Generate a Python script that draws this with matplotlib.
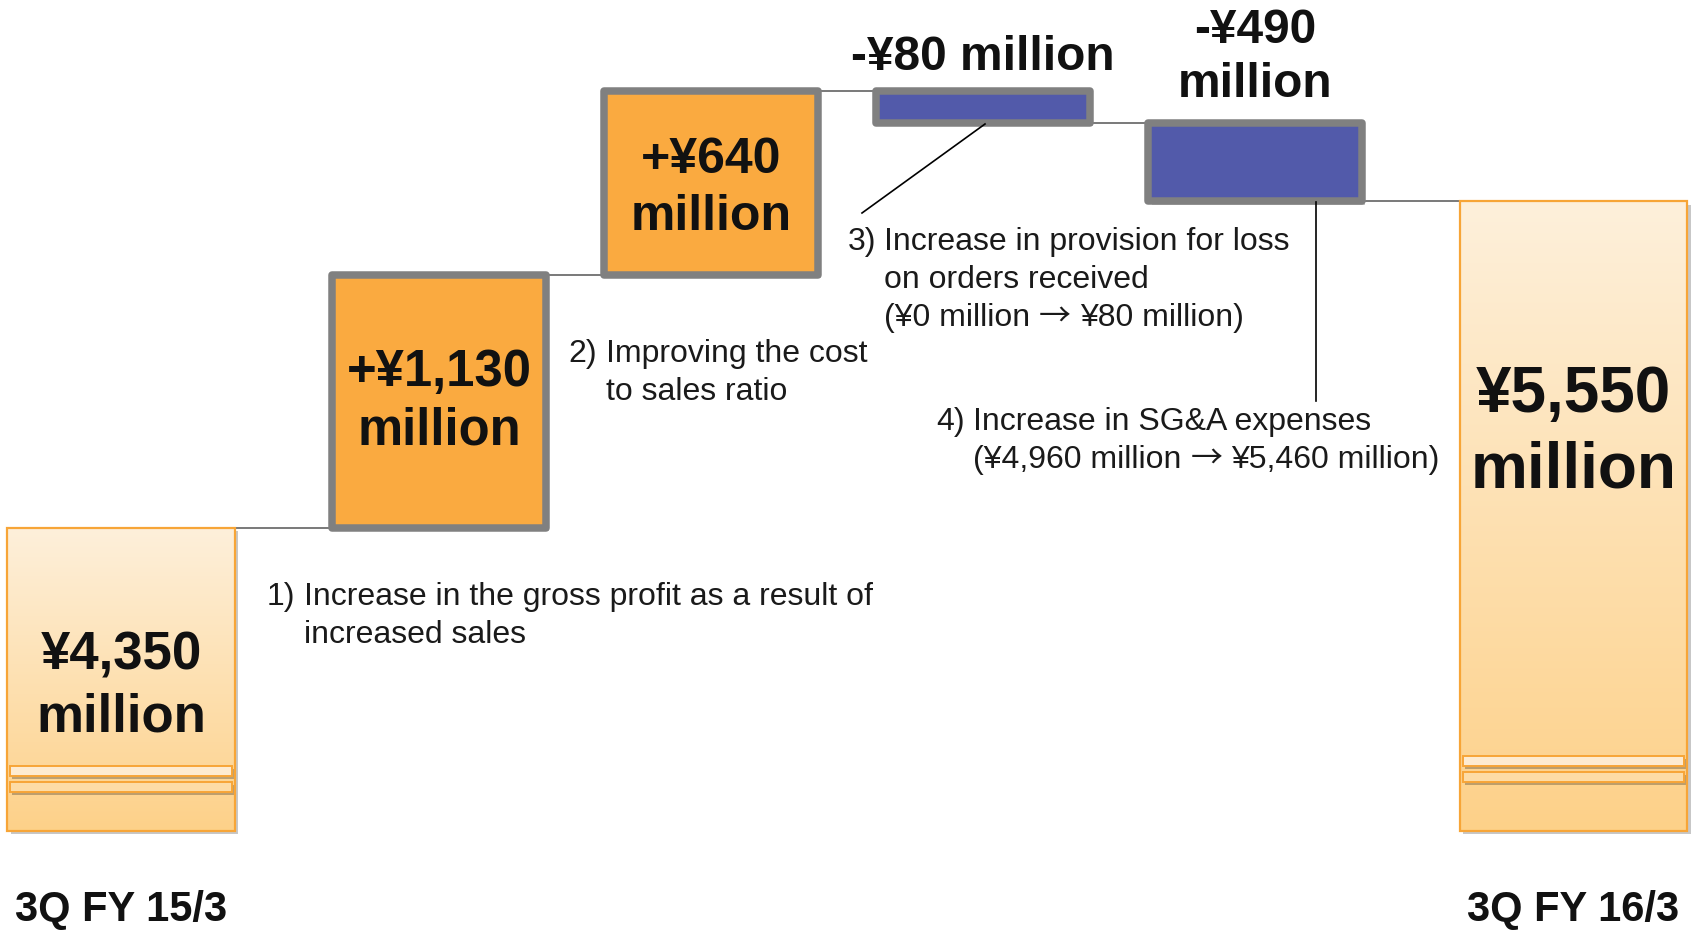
import numpy as np
import matplotlib
matplotlib.use("Agg")
import matplotlib.pyplot as plt
from matplotlib.patches import Rectangle
from matplotlib.lines import Line2D
from matplotlib import transforms as mtransforms
from matplotlib import patheffects as pe
from matplotlib.colors import LinearSegmentedColormap

plt.rcParams['font.family'] = ['Liberation Sans', 'DejaVu Sans']

# ---------------- data ----------------
period_labels = ["3Q FY 15/3", "3Q FY 16/3"]
start_value = 4350          # million yen
changes = [1130, 640, -80, -490]
end_value = 5550
notes = [
    ("1)", ["Increase in the gross profit as a result of", "increased sales"]),
    ("2)", ["Improving the cost", "to sales ratio"]),
    ("3)", ["Increase in provision for loss", "on orders received",
            "(¥0 million \u2192 ¥80 million)"]),
    ("4)", ["Increase in SG&A expenses",
            "(¥4,960 million \u2192 ¥5,460 million)"]),
]

# ---------------- derived values ----------------
levels = start_value + np.cumsum(changes)          # running totals
prev = np.concatenate([[start_value], levels[:-1]])
base_level = 0

def fmt_total(v):
    return f"¥{v:,}"

def fmt_change(c):
    return f"{'+' if c > 0 else '-'}¥{abs(c):,}"

# ---------------- figure / layout ----------------
W, H = 1691, 930
fig = plt.figure(figsize=(W / 100, H / 100), dpi=100)
ax = fig.add_axes([0, 0, 1, 1])
ax.set_axis_off()
ax.set_autoscale_on(False)

# schematic (non-proportional) vertical scale of the original slide:
# level -> height in pixels from the bottom of the figure
anchor_levels = np.array([base_level, start_value] + sorted(set(levels.tolist())), float)
anchor_disp = H - np.array([831, 528, 275, 201.5, 123, 91], float)

def _extrap(y, X, Y):
    y = np.asarray(y, float)
    out = np.interp(y, X, Y)
    lo_s = (Y[1] - Y[0]) / (X[1] - X[0])
    hi_s = (Y[-1] - Y[-2]) / (X[-1] - X[-2])
    out = np.where(y < X[0], Y[0] + (y - X[0]) * lo_s, out)
    out = np.where(y > X[-1], Y[-1] + (y - X[-1]) * hi_s, out)
    return out

fwd = lambda y: _extrap(y, anchor_levels, anchor_disp)
inv = lambda d: _extrap(d, anchor_disp, anchor_levels)
ax.set_yscale('function', functions=(fwd, inv))
ax.set_ylim(float(inv(0)), float(inv(H)))

# horizontal layout: unit spacing, with a wider gap around the totals
unit_px, x0_px = 272.0, 121.0
end_gap = 0.17
xpos = np.arange(6) + end_gap * np.array([0, 1, 1, 1, 1, 2])
ax.set_xlim(-x0_px / unit_px, (W - x0_px) / unit_px)

px = mtransforms.Affine2D().scale(1, -1).translate(0, H)   # pixels from top
xdata_ypx = mtransforms.blended_transform_factory(ax.transData, px)

# ---------------- styles ----------------
orange = '#FAAA40'
blue = '#525AAA'
gray_border = '#808080'
total_edge = '#F7A537'
conn_color = '#6E6E6E'
txt = '#111111'
note_color = '#1a1a1a'
shadow = [pe.SimplePatchShadow(offset=(2.5, -2.5), shadow_rgbFace='black', alpha=0.22),
          pe.Normal()]
grad_cmap = LinearSegmentedColormap.from_list('g', ['#FEF0DB', '#FDD189'])
end_w = 0.835
mid_w = 0.785

# ---------------- connectors ----------------
conn_levels = [start_value] + levels.tolist()
for i, lv in enumerate(conn_levels):
    ax.plot([xpos[i], xpos[i + 1]], [lv, lv], color=conn_color, lw=1.3, zorder=0.5,
            solid_capstyle='butt')

# ---------------- total bars ----------------
def total_bar(xc, top, bands_px):
    x0 = xc - end_w / 2
    r = Rectangle((x0, base_level), end_w, top - base_level, facecolor='#FDD189',
                  edgecolor='none', zorder=1, path_effects=shadow)
    ax.add_patch(r)
    (dx0, dy0), (dx1, dy1) = ax.transData.transform([(x0, base_level), (x0 + end_w, top)])
    grad = np.linspace(0, 1, 256).reshape(-1, 1)
    im = ax.imshow(grad, extent=(dx0, dx1, dy0, dy1), origin='upper', cmap=grad_cmap,
                   aspect='auto', interpolation='bilinear', zorder=2,
                   transform=mtransforms.IdentityTransform())
    im.set_clip_path(r)
    band_fc = ['#FEEBD0', '#FDDCA6']
    for (ytop, ybot), fc in zip(bands_px, band_fc):
        b = Rectangle((x0 + 0.01, ybot), end_w - 0.02, ytop - ybot, transform=xdata_ypx,
                      facecolor=fc, edgecolor=total_edge, lw=1.4, zorder=3,
                      path_effects=[pe.SimplePatchShadow(offset=(1.5, -2.5),
                                                         shadow_rgbFace='black', alpha=0.25),
                                    pe.Normal()])
        ax.add_patch(b)
    ax.add_patch(Rectangle((x0, base_level), end_w, top - base_level, facecolor='none',
                           edgecolor=total_edge, lw=1.6, zorder=4))

total_bar(xpos[0], start_value, [(766, 776), (782, 792)])
total_bar(xpos[5], end_value, [(756, 766), (772, 782)])

# ---------------- change bars ----------------
for i, c in enumerate(changes):
    lo, hi = sorted([prev[i], levels[i]])
    fc = orange if c > 0 else blue
    ax.add_patch(Rectangle((xpos[i + 1] - mid_w / 2, lo), mid_w, hi - lo, facecolor=fc,
                           edgecolor=gray_border, lw=5.4, joinstyle='round', zorder=5,
                           path_effects=shadow))

# ---------------- value labels ----------------
label_lines = [
    [fmt_total(start_value), "million"],
    [fmt_change(changes[0]), "million"],
    [fmt_change(changes[1]), "million"],
    [fmt_change(changes[2]) + " million"],
    [fmt_change(changes[3]), "million"],
    [fmt_total(end_value), "million"],
]
label_baselines = [[669, 731], [386, 444], [173, 230], [70], [43, 97], [412, 487]]
label_sizes = [38, 36.5, 36, 34.5, 34.5, 46]
for i, lines in enumerate(label_lines):
    for line, yb in zip(lines, label_baselines[i]):
        ax.text(xpos[i], yb, line, transform=xdata_ypx, ha='center', va='baseline',
                fontsize=label_sizes[i], fontweight='bold', color=txt, zorder=10)

# period labels
for xi, lab in zip([xpos[0], xpos[5]], period_labels):
    ax.text(xi, 921, lab, transform=xdata_ypx, ha='center', va='baseline',
            fontsize=30, fontweight='bold', color=txt, zorder=10)

# ---------------- notes ----------------
renderer = fig.canvas.get_renderer()
ARROW = '\u2192'
cjk = ['Noto Sans CJK JP', 'DejaVu Sans']
latin = ['Liberation Sans', 'DejaVu Sans']
NOTE_FS = 23
space_px = 0.278 * NOTE_FS * 100 / 72     # width of a space in Liberation Sans

def note_line(x, y, s):
    """Draw a line; arrows are set in the CJK face (long thin arrow as in the slide)."""
    if ARROW not in s:
        ax.text(x, y, s, transform=px, ha='left', va='baseline', fontsize=NOTE_FS,
                family=latin, color=note_color, zorder=10)
        return
    parts = [p.strip() for p in s.split(ARROW)]
    for k, p in enumerate(parts):
        if k:
            x += space_px
            t = ax.text(x, y, ARROW, transform=px, ha='left', va='baseline',
                        fontsize=NOTE_FS, family=cjk, color=note_color, zorder=10)
            x += t.get_window_extent(renderer).width + space_px
        t = ax.text(x, y, p, transform=px, ha='left', va='baseline', fontsize=NOTE_FS,
                    family=latin, color=note_color, zorder=10)
        x += t.get_window_extent(renderer).width

num_x = [267, 568, 848, 936]
body_x = [304, 606, 884, 973]
first_base = [605, 362, 250, 430]
step = 38
for (num, body), nx, bx, yb in zip(notes, num_x, body_x, first_base):
    ax.text(nx, yb, num, transform=px, ha='left', va='baseline', fontsize=NOTE_FS,
            color=note_color, zorder=10)
    for k, line in enumerate(body):
        note_line(bx, yb + k * step, line)

# callout lines
ax.add_line(Line2D([985, 862], [124, 213], transform=px, color='black', lw=1.2, zorder=9))
ax.add_line(Line2D([1316, 1316], [202, 401], transform=px, color='black', lw=1.2, zorder=9))

fig.savefig('out.png', dpi=100, facecolor='white')
